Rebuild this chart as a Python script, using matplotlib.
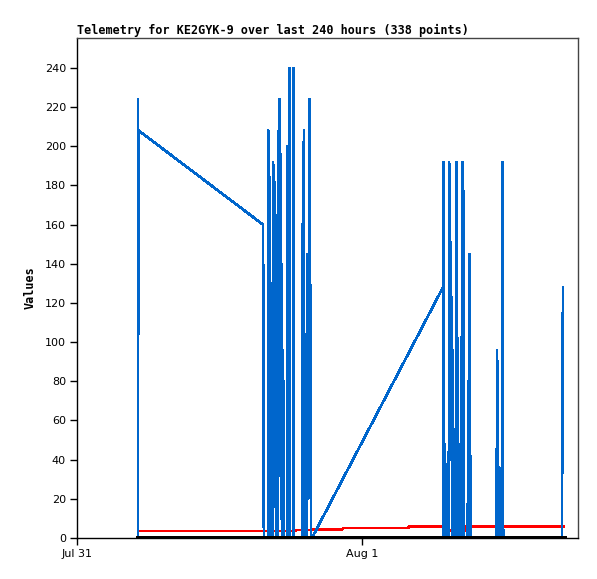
import matplotlib
matplotlib.use("Agg")
import matplotlib.pyplot as plt
import pandas as pd

BASE = pd.Timestamp("2024-07-31 00:00")

# Blue channel: (minutes since Jul 31 00:00, value)
blue_minutes = [308, 308, 310, 312, 940, 944,
                965, 966, 968, 970, 972, 975, 978,
                990, 991, 994, 996, 998, 1000, 1002, 1004, 1006, 1008, 1010, 1012,
                1015, 1018, 1020, 1022, 1025, 1027, 1030, 1032, 1035, 1037, 1040, 1043, 1046,
                1062, 1064, 1068, 1072, 1073, 1076, 1092, 1093, 1097,
                1137, 1138, 1140, 1142, 1144, 1146, 1148, 1150, 1153, 1157, 1160, 1164, 1168,
                1175, 1182, 1187,
                1849, 1850, 1853, 1858, 1862, 1866, 1878, 1880, 1884, 1886, 1888, 1890, 1892,
                1894, 1896, 1898, 1900, 1902, 1904, 1906,
                1914, 1916, 1918, 1920, 1922, 1924, 1926,
                1938, 1940, 1942, 1946, 1950, 1952, 1954,
                1974, 1976, 1978, 1982, 1988,
                2120, 2122, 2126, 2130, 2142, 2144, 2146, 2147, 2148, 2152, 2153,
                2450, 2452, 2455]
blue_values = [0, 224, 104, 208, 160, 0,
               0, 208, 104, 200, 0, 184, 0,
               0, 192, 96, 187, 64, 176, 16, 165, 0, 128, 16, 128,
               0, 208, 32, 224, 84, 196, 28, 140, 0, 96, 0, 80, 0,
               0, 200, 0, 0, 240, 0, 0, 240, 0,
               0, 160, 48, 192, 16, 208, 0, 104, 0, 96, 0, 145, 20,
               224, 0, 0,
               128, 192, 0, 48, 28, 0, 0, 192, 179, 40, 151, 60, 123,
               20, 96, 0, 69, 0, 41, 0,
               0, 192, 60, 145, 0, 48, 0,
               0, 88, 0, 192, 30, 177, 0,
               0, 80, 28, 145, 0,
               0, 96, 64, 0, 0, 32, 0, 168, 192, 192, 0,
               0, 64, 128]

# Red channel
red_minutes = [308, 1100, 1105, 1185, 1190, 1340, 1345, 1672, 1678, 1850, 1852, 1960, 1965, 2460]
red_values = [3.6, 3.6, 4.0, 4.0, 4.3, 4.3, 5.1, 5.1, 5.9, 5.9, 3.9, 3.9, 5.9, 5.9]

# Black channel
black_minutes = [308, 2460]
black_values = [0, 0]

y_ticks = list(range(0, 241, 20))
x_tick_labels = ["Jul 31", "Aug 1"]


def to_times(mins):
    return BASE + pd.to_timedelta(mins, unit="m")


fig = plt.figure(figsize=(5.97, 5.79), dpi=100)
ax = fig.add_axes([77 / 597, 1 - 538 / 579, 501 / 597, 500 / 579])

ax.plot(to_times(red_minutes), red_values, color="#FF0000", lw=1.2, antialiased=False)
ax.plot(to_times(blue_minutes), blue_values, color="#0066CC", lw=1.2, antialiased=False)
ax.plot(to_times(black_minutes), black_values, color="#000000", lw=2.2, antialiased=False)

ax.set_ylim(0, 255.3)
ax.set_xlim(BASE, BASE + pd.Timedelta(minutes=2531))
ax.set_yticks(y_ticks)
ax.set_yticklabels([str(v) for v in y_ticks], fontsize=8, family="DejaVu Sans")
xt = [BASE, BASE + pd.Timedelta(days=1)]
ax.set_xticks(xt)
ax.set_xticklabels(x_tick_labels, fontsize=8, family="DejaVu Sans")
ax.tick_params(axis="both", direction="out", length=5, width=1, color="black", pad=3)

for s in ["top", "right"]:
    ax.spines[s].set_color("#444444")
for s in ["left", "bottom"]:
    ax.spines[s].set_color("black")
for s in ax.spines.values():
    s.set_linewidth(1)

ax.set_title("Telemetry for KE2GYK-9 over last 240 hours (338 points)", loc="left",
             fontsize=8.45, family="DejaVu Sans Mono", fontweight="bold", pad=3)
ax.set_ylabel("Values", fontsize=8.45, family="DejaVu Sans Mono", fontweight="bold", labelpad=6)

fig.savefig("out.png", dpi=100)
